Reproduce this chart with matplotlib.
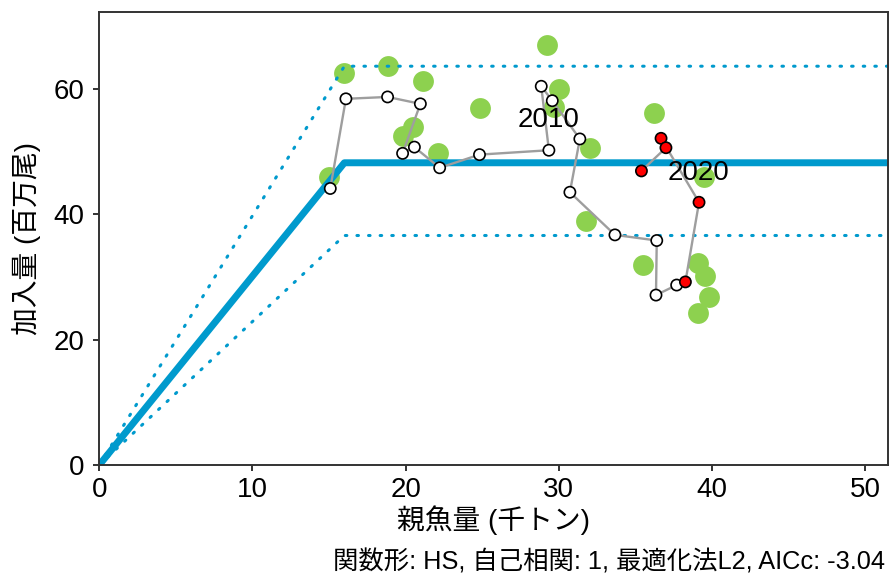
import matplotlib
matplotlib.use('Agg')
import matplotlib.pyplot as plt

plt.rcParams['font.family'] = ['Liberation Sans', 'Noto Sans CJK JP']

# observed stock-recruit pairs, 2001-2022 (SSB in kt, recruits in millions)
years = list(range(2001, 2023))
ssb = [15.08, 16.10, 18.82, 20.96, 19.80, 20.57, 22.22, 24.82, 29.35, 28.85,
       29.57, 31.37, 30.72, 33.66, 36.39, 36.34, 37.69, 38.26, 39.15, 36.67,
       36.99, 35.39]
rec = [44.1, 58.4, 58.7, 57.6, 49.7, 50.7, 47.4, 49.5, 50.2, 60.4,
       58.1, 52.0, 43.5, 36.7, 35.8, 27.1, 28.7, 29.2, 41.9, 52.1,
       50.6, 46.9]
recent_from = 2018
label_years = [2010, 2020]

# green points (other estimates)
green_ssb = [14.97, 15.99, 18.85, 21.14, 19.83, 20.46, 22.12, 24.88, 29.20, 30.00,
             29.67, 32.03, 31.75, 36.21, 39.48, 35.52, 39.08, 39.52, 39.80, 39.05]
green_rec = [46.0, 62.5, 63.6, 61.3, 52.5, 53.9, 49.7, 56.9, 67.0, 60.0,
             57.1, 50.5, 38.9, 56.1, 45.9, 31.9, 32.2, 30.1, 26.8, 24.3]

# hockey-stick fit and its band
hs_ssb = [0, 16.0, 52]
hs_rec = [0, 48.2, 48.2]
hs_upper = [0, 63.6, 63.6]
hs_lower = [0, 36.6, 36.6]

blue = '#009ACD'

fig = plt.figure(figsize=(8.91, 5.83), dpi=100)
ax = fig.add_axes([0.1114, 0.2024, 0.8855, 0.7776])

ax.scatter(green_ssb, green_rec, s=225, color='#8DD14F', linewidths=0, zorder=1)

ax.plot(hs_ssb, hs_rec, color=blue, lw=5, solid_capstyle='butt', zorder=2)
for band in (hs_upper, hs_lower):
    ax.plot(hs_ssb, band, color=blue, lw=2.2, linestyle=(0, (0.5, 3.3)),
            dash_capstyle='round', zorder=2)

ax.plot(ssb, rec, color='#9E9E9E', lw=1.7, zorder=3)
fills = ['red' if y >= recent_from else 'white' for y in years]
ax.scatter(ssb, rec, s=65, c=fills, edgecolors='black', linewidths=1.2, zorder=4)

offsets = {2010: (5, -24), 2020: (27, -25)}
for y in label_years:
    i = years.index(y)
    ax.annotate(str(y), (ssb[i], rec[i]), xytext=offsets[y], textcoords='offset points',
                ha='center', va='center', fontsize=20, color='black', zorder=5)

ax.set_xlim(0, 51.5)
ax.set_ylim(0, 72.3)
ax.set_xticks([0, 10, 20, 30, 40, 50])
ax.set_yticks([0, 20, 40, 60])

for s in ax.spines.values():
    s.set_color('#333333')
    s.set_linewidth(1.4)
ax.tick_params(colors='#333333', labelcolor='black', width=1.4, length=4.5, labelsize=20)
ax.tick_params(axis='x', pad=4)
ax.tick_params(axis='y', pad=6)

ax.set_xlabel('親魚量 (千トン)', fontsize=20, labelpad=2)
ax.set_ylabel('加入量 (百万尾)', fontsize=20, labelpad=9)

fig.text(0.993, 0.036, '関数形: HS, 自己相関: 1, 最適化法L2, AICc: -3.04',
         ha='right', va='center', fontsize=18.3)

fig.savefig('out.png', dpi=100)
